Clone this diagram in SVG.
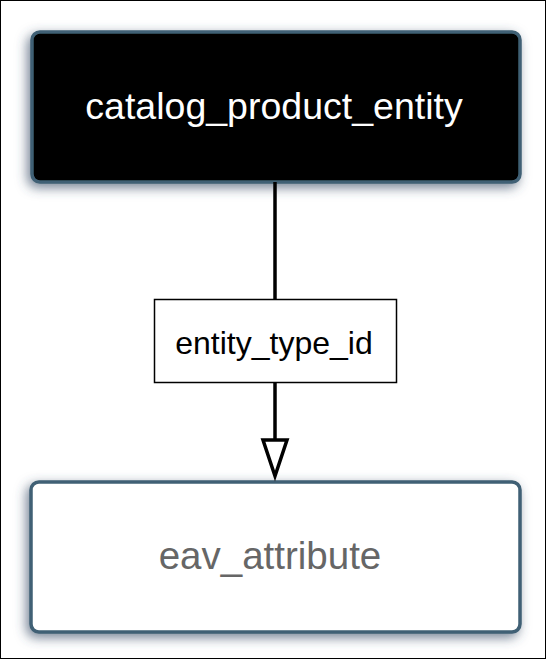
<svg xmlns="http://www.w3.org/2000/svg" width="547" height="660" viewBox="0 0 547 660">
<style>
.node{stroke:#3f6074;stroke-width:3.5;filter:url(#sh)}
.t{font-family:"Liberation Sans",Arial,sans-serif;text-anchor:middle}
.conn{stroke:#000;stroke-width:3.5;fill:none}
</style>
<defs>
<filter id="sh" x="-10%" y="-20%" width="120%" height="145%">
<feDropShadow dx="-3" dy="4" stdDeviation="6" flood-color="#3a5068" flood-opacity="0.7"/>
</filter>
</defs>
<rect x="0" y="0" width="547" height="660" fill="#fff"/>
<rect x="0.5" y="0.5" width="545" height="658" fill="none" stroke="#000" stroke-width="1"/>
<g id="catalog_product_entity">
<rect class="node" x="32" y="32" width="488" height="150" rx="8" fill="#000"/>
<text class="t" x="274" y="119" font-size="37.5" fill="#fff">catalog_product_entity</text>
</g>
<g id="eav_attribute">
<rect class="node" x="31" y="482" width="489" height="150" rx="8" fill="#fff"/>
<text class="t" x="270" y="569" font-size="38.5" fill="#666">eav_attribute</text>
</g>
<g id="connectors">
<line class="conn" x1="275" y1="182" x2="275" y2="300"/>
<line class="conn" x1="275" y1="383" x2="275" y2="440"/>
<polygon points="263,440 287,440 275,476" fill="#fff" stroke="#000" stroke-width="3.5" stroke-linejoin="miter"/>
<g id="label_entity_type_id">
<rect x="154.5" y="299.5" width="242" height="83" fill="#fff" stroke="#000" stroke-width="1.5"/>
<text class="t" x="274" y="354" font-size="32" fill="#000">entity_type_id</text>
</g>
</g>
</svg>
